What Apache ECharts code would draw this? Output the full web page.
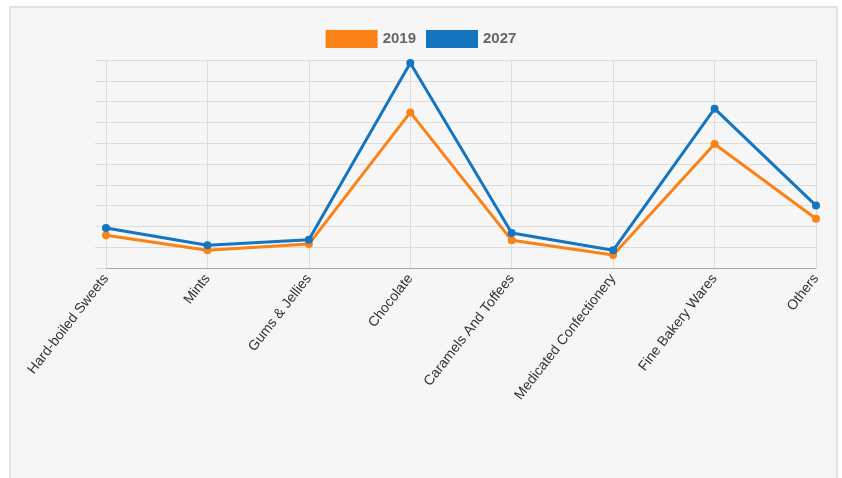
<!DOCTYPE html>
<html>
<head>
<meta charset="utf-8">
<script src="https://cdn.jsdelivr.net/npm/echarts@6/dist/echarts.min.js"></script>
<style>
  html, body { margin: 0; padding: 0; background: #fff; }
  #panel {
    position: absolute; left: 9px; top: 6px; width: 825px; height: 490px;
    background: #f6f6f6; border: 2px solid #e2e2e2;
  }
  #chart { position: absolute; left: 0; top: 0; width: 842px; height: 478px; }
</style>
</head>
<body>
<div id="panel"></div>
<div id="chart"></div>
<script>
var categories = ['Hard-boiled Sweets', 'Mints', 'Gums & Jellies', 'Chocolate',
    'Caramels And Toffees', 'Medicated Confectionery', 'Fine Bakery Wares', 'Others'];
var values2019 = [1.57, 0.85, 1.15, 7.48, 1.33, 0.63, 5.96, 2.37];
var values2027 = [1.92, 1.09, 1.36, 9.86, 1.68, 0.85, 7.66, 3.0];

var dom = document.getElementById('chart');
var myChart = echarts.init(dom);

var option = {
    backgroundColor: 'transparent',
    textStyle: { fontFamily: 'Liberation Sans, Arial, sans-serif' },
    legend: {
        top: 25,
        left: 'center',
        itemWidth: 52,
        itemHeight: 18,
        itemGap: 10,
        icon: 'rect',
        textStyle: { color: '#666', fontSize: 15, fontWeight: 'bold' },
        data: ['2019', '2027']
    },
    grid: { left: 106, right: 26, top: 60, bottom: 210 },
    xAxis: {
        type: 'category',
        boundaryGap: false,
        data: categories,
        axisLine: { lineStyle: { color: '#aaa', width: 1 } },
        axisTick: { show: false },
        splitLine: { show: true, lineStyle: { color: '#dcdcdc' } },
        axisLabel: { rotate: 52, color: '#333', fontSize: 14, margin: 8, interval: 0 }
    },
    yAxis: {
        type: 'value',
        min: 0,
        max: 10,
        interval: 1,
        axisLine: { show: false },
        axisTick: { show: true, length: 11, lineStyle: { color: '#dcdcdc' } },
        axisLabel: { show: false },
        splitLine: { lineStyle: { color: '#dcdcdc' } }
    },
    series: [{
        name: '2019',
        type: 'line',
        data: values2019,
        color: '#fb8216',
        symbol: 'circle',
        symbolSize: 8,
        lineStyle: { width: 3 },
        z: 2
    }, {
        name: '2027',
        type: 'line',
        data: values2027,
        color: '#1576bf',
        symbol: 'circle',
        symbolSize: 8,
        lineStyle: { width: 3 },
        z: 3
    }],
    animation: false
};

if (option && typeof option === 'object') {
    myChart.setOption(option, true);
}
</script>
</body>
</html>
